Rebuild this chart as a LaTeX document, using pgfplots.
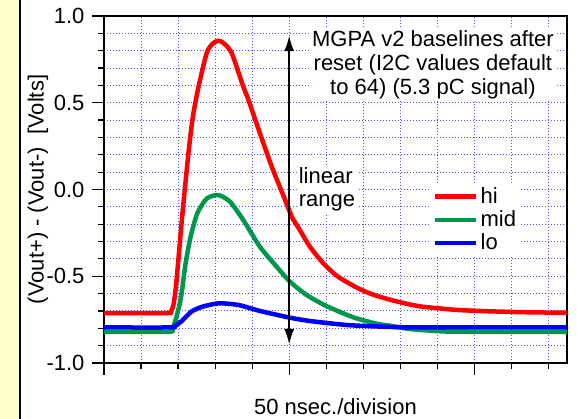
\documentclass[border=0pt]{standalone}
\usepackage{pgfplots}
\pgfplotsset{compat=1.18}
\usepackage{fontspec}
\setmainfont{Liberation Sans}
\usetikzlibrary{arrows.meta}
\definecolor{cred}{RGB}{255,0,0}
\definecolor{cgreen}{RGB}{0,150,75}
\definecolor{cblue}{RGB}{0,0,255}
\definecolor{cgrid}{RGB}{80,80,255}
\definecolor{cyell}{RGB}{255,255,204}
\begin{document}
\fontsize{22}{24}\selectfont
\begin{tikzpicture}
\useasboundingbox (-104pt,-56pt) rectangle (473pt,363pt);
\fill[cyell] (-104pt,-56pt) rectangle (-85pt,363pt);
\draw[line width=1.5pt] (-84pt,-56pt) -- (-84pt,363pt);
\begin{axis}[
 at={(0pt,0pt)}, anchor=south west,
 scale only axis, width=463pt, height=347pt,
 xmin=0, xmax=125, ymin=-1, ymax=1,
 xtick={0,50,100}, minor xtick={10,20,30,40,60,70,80,90,110,120},
 ytick={-1,-0.5,0,0.5,1}, yticklabels={-1.0,-0.5,0.0,0.5,1.0},
 minor ytick={-0.9,-0.8,-0.7,-0.6,-0.4,-0.3,-0.2,-0.1,0.1,0.2,0.3,0.4,0.6,0.7,0.8,0.9},
 xticklabels={},
 tick align=outside, xtick pos=left, ytick pos=left,
 major tick length=12pt, minor tick length=6pt,
 tick style={black, line width=1.2pt},
 axis line style={line width=1.5pt},
 grid=both,
 major grid style={cgrid, dash pattern=on 1pt off 2pt, line width=1pt},
 minor grid style={cgrid, dash pattern=on 1pt off 2pt, line width=1pt},
 xlabel={50 nsec./division},
 xlabel style={at={(axis description cs:0.5,-0.126)}, anchor=center},
 ylabel={(Vout+) - (Vout-)\ \ [Volts]},
 ylabel style={at={(axis description cs:-0.1425,0.5)}, anchor=center},
 legend style={at={(axis description cs:0.704,0.519)}, anchor=north west, draw=none, fill=white, inner xsep=3pt, inner ysep=2pt, row sep=0pt},
 legend cell align=left,
 legend image code/.code={\draw[#1, line width=4.5pt] (0pt,0pt) -- (41pt,0pt);},
]
\addplot[cred, line width=4.5pt, smooth, tension=0.4, line join=round] coordinates {
(0,-0.712) (17.0,-0.712) (18.0,-0.705) (18.8,-0.66) (19.6,-0.52) (21.0,-0.18) (22.8,0.21) (24.0,0.42) (25.5,0.59) (27.7,0.785) (29.3,0.84) (30.9,0.858) (32.5,0.84) (34.5,0.785) (37.6,0.593) (39.0,0.516) (42.1,0.324) (45.3,0.131) (48.9,-0.06) (50.7,-0.157) (52.9,-0.235) (55.6,-0.33) (59.2,-0.425) (63.0,-0.50) (68.2,-0.565) (72.5,-0.605) (77.2,-0.635) (82,-0.66) (86.2,-0.676) (95.2,-0.694) (104,-0.702) (115,-0.708) (125,-0.71)
};
\addlegendentry{hi}
\addplot[cgreen, line width=4.5pt, smooth, tension=0.4, line join=round] coordinates {
(0,-0.82) (17.5,-0.82) (18.5,-0.80) (19.5,-0.74) (20.8,-0.62) (22.0,-0.43) (23.4,-0.27) (25.2,-0.137) (27.8,-0.051) (30.9,-0.032) (34.0,-0.070) (37.6,-0.176) (42.1,-0.33) (46.6,-0.445) (50.2,-0.531) (54.5,-0.605) (59.2,-0.663) (64.6,-0.714) (68.2,-0.743) (73.5,-0.773) (77.2,-0.785) (82.5,-0.804) (91.5,-0.818) (100,-0.82) (125,-0.82)
};
\addlegendentry{mid}
\addplot[cblue, line width=4.5pt, smooth, tension=0.4, line join=round] coordinates {
(0,-0.795) (18.0,-0.795) (19.2,-0.785) (20.8,-0.762) (23.6,-0.704) (26.5,-0.676) (31.0,-0.656) (36.4,-0.666) (42.1,-0.700) (49.8,-0.737) (55.6,-0.758) (65.5,-0.781) (74.5,-0.790) (85,-0.795) (125,-0.795)
};
\addlegendentry{lo}
\draw[line width=2.5pt, {Latex[length=16pt,width=10pt]}-{Latex[length=16pt,width=10pt]}] (axis cs:50,-0.896) -- (axis cs:50,0.89);
\node[fill=white, align=center, inner sep=2pt, font=\fontsize{22}{24}\selectfont] at (axis cs:88.8,0.717) {MGPA v2 baselines after\\reset (I2C values default\\to 64) (5.3 pC signal)};
\node[fill=white, align=left, anchor=west, inner sep=2pt, font=\fontsize{22}{23}\selectfont] at (axis cs:52.0,0.0) {linear\\range};
\end{axis}
\end{tikzpicture}
\end{document}
